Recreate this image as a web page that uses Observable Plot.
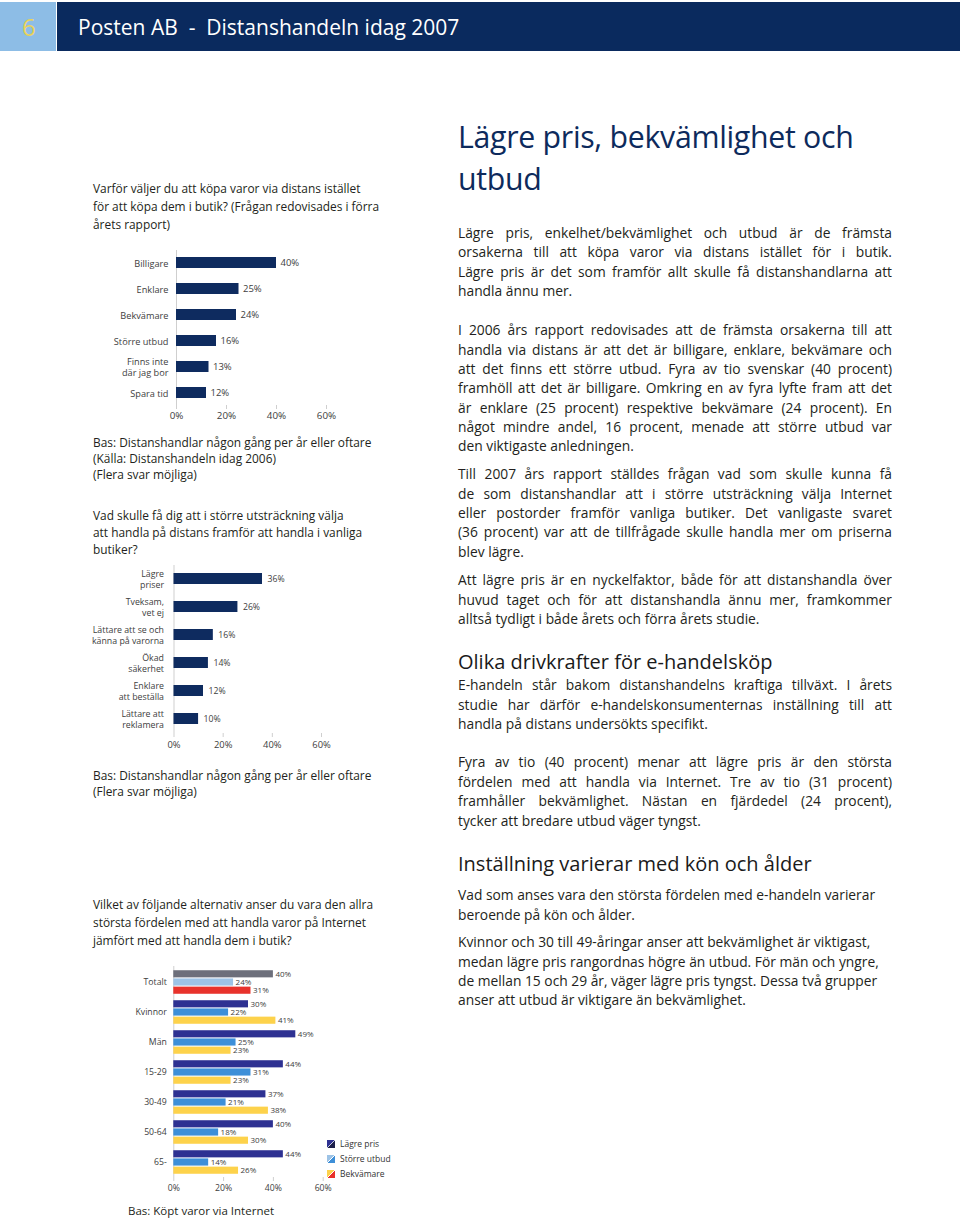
<!DOCTYPE html>
<html><head><meta charset="utf-8">
<script src="https://cdn.jsdelivr.net/npm/d3@7"></script>
<script src="https://cdn.jsdelivr.net/npm/@observablehq/plot@0.6"></script>
<style>
body{margin:0;background:#fff;font-family:"Open Sans",sans-serif;color:#231f20;}
#page{position:relative;width:960px;height:1221px;overflow:hidden;background:#fff;}
.chart svg{overflow:visible;display:block;}
.leg{position:absolute;font-size:8.5px;color:#333;display:flex;align-items:center;gap:5px;}
.sw{width:8px;height:8px;display:inline-block;}
</style></head><body><div id="page"></div>
<script>
// ---------- data ----------
const c1Cats = ["Billigare", "Enklare", "Bekvämare", "Större utbud", "Finns inte\ndär jag bor", "Spara tid"];
const c1Vals = [40, 25, 24, 16, 13, 12];

const c2Cats = ["Lägre\npriser", "Tveksam,\nvet ej", "Lättare att se och\nkänna på varorna", "Ökad\nsäkerhet", "Enklare\natt beställa", "Lättare att\nreklamera"];
const c2Vals = [36, 26, 16, 14, 12, 10];

const c3Cats = ["Totalt", "Kvinnor", "Män", "15-29", "30-49", "50-64", "65-"];
const c3Series = ["Lägre pris", "Större utbud", "Bekvämare"];
const c3LagrePris = [40, 30, 49, 44, 37, 40, 44];
const c3StorreUtbud = [24, 22, 25, 31, 21, 18, 14];
const c3Bekvamare = [31, 41, 23, 23, 38, 30, 26];

const xTicks = [0, 20, 40, 60];

// ---------- colours ----------
const navy = "#0e2b5f";
const c3Colors = ["#2e3192", "#3d8fd8", "#fdd24b"];
const c3TotalColors = ["#6d6f7b", "#9dc3e6", "#e8322b"];

const page = document.getElementById("page");
function el(tag, css, text) {
  const d = document.createElement(tag);
  Object.assign(d.style, css);
  if (text != null) d.textContent = text;
  page.appendChild(d);
  return d;
}

// ---------- header ----------
el("div", {position:"absolute", left:"0px", top:"2px", width:"56px", height:"49px", background:"#8dbde6"});
el("div", {position:"absolute", left:"57px", top:"2px", width:"903px", height:"49px", background:"#0a2a5e"});
el("div", {position:"absolute", left:"22px", top:"10px", fontSize:"24px", lineHeight:"34px", color:"#e9d35a"}, "6");
el("div", {position:"absolute", left:"78px", top:"11px", fontSize:"21px", lineHeight:"32px", color:"#fff", whiteSpace:"pre"}, "Posten AB  -  Distanshandeln idag 2007");

// ---------- text helpers ----------
const cv = document.createElement("canvas").getContext("2d");
function lines(x, y0, lh, arr, o) {
  arr.forEach((t, i) => {
    const d = el("div", {position:"absolute", left:x+"px", top:(y0 + i*lh - lh/2)+"px", lineHeight:lh+"px",
      fontSize:o.size+"px", color:o.color || "#231f20", whiteSpace:"nowrap", letterSpacing:(o.ls||0)+"px"}, t);
    if (o.width && i < (o.just != null ? o.just : arr.length - 1)) {
      cv.font = `${o.size}px "Open Sans"`;
      const w = cv.measureText(t).width + t.length*(o.ls||0);
      if (w > o.width - 2) d.style.letterSpacing = ((o.ls||0) + (o.width - 2 - w)/t.length) + "px";
      Object.assign(d.style, {width:o.width+"px", whiteSpace:"normal", textAlign:"justify", textAlignLast:"justify"});
    }
  });
}

// ---------- left column texts ----------
const LQ = {size:11.9, color:"#231f20"};
lines(93, 188, 18, ["Varför väljer du att köpa varor via distans istället", "för att köpa dem i butik? (Frågan redovisades i förra", "årets rapport)"], LQ);
lines(93, 442, 16, ["Bas: Distanshandlar någon gång per år eller oftare", "(Källa: Distanshandeln idag 2006)", "(Flera svar möjliga)"], LQ);
lines(93, 515, 17, ["Vad skulle få dig att i större utsträckning välja", "att handla på distans framför att handla i vanliga", "butiker?"], LQ);
lines(93, 775, 16, ["Bas: Distanshandlar någon gång per år eller oftare", "(Flera svar möjliga)"], LQ);
lines(93, 904, 18, ["Vilket av följande alternativ anser du vara den allra", "största fördelen med att handla varor på Internet", "jämfört med att handla dem i butik?"], LQ);
lines(128, 1211, 16, ["Bas: Köpt varor via Internet"], {size:11.5});

// ---------- right column ----------
lines(458, 137, 41.6, ["Lägre pris, bekvämlighet och", "utbud"], {size:30.3, color:"#0d2a5c", ls:-0.3});
const B = {size:13.8, width:434};
lines(458, 232.5, 19.4, ["Lägre pris, enkelhet/bekvämlighet och utbud är de främsta", "orsakerna till att köpa varor via distans istället för i butik.", "Lägre pris är det som framför allt skulle få distanshandlarna att", "handla ännu mer."], B);
lines(458, 330, 19.3, ["I 2006 års rapport redovisades att de främsta orsakerna till att", "handla via distans är att det är billigare, enklare, bekvämare och", "att det finns ett större utbud. Fyra av tio svenskar (40 procent)", "framhöll att det är billigare. Omkring en av fyra lyfte fram att det", "är enklare (25 procent) respektive bekvämare (24 procent). En", "något mindre andel, 16 procent, menade att större utbud var", "den viktigaste anledningen."], B);
lines(458, 474, 19.3, ["Till 2007 års rapport ställdes frågan vad som skulle kunna få", "de som distanshandlar att i större utsträckning välja Internet", "eller postorder framför vanliga butiker. Det vanligaste svaret", "(36 procent) var att de tillfrågade skulle handla mer om priserna", "blev lägre."], B);
lines(458, 580, 19.5, ["Att lägre pris är en nyckelfaktor, både för att distanshandla över", "huvud taget och för att distanshandla ännu mer, framkommer", "alltså tydligt i både årets och förra årets studie."], B);
lines(458, 662, 26, ["Olika drivkrafter för e-handelsköp"], {size:20, color:"#1a1a1a"});
lines(458, 685, 19.2, ["E-handeln står bakom distanshandelns kraftiga tillväxt. I årets", "studie har därför e-handelskonsumenternas inställning till att", "handla på distans undersökts specifikt."], B);
lines(458, 762, 19.4, ["Fyra av tio (40 procent) menar att lägre pris är den största", "fördelen med att handla via Internet. Tre av tio (31 procent)", "framhåller bekvämlighet. Nästan en fjärdedel (24 procent),", "tycker att bredare utbud väger tyngst."], B);
lines(458, 864, 26, ["Inställning varierar med kön och ålder"], {size:20, color:"#1a1a1a"});
lines(458, 895, 19.2, ["Vad som anses vara den största fördelen med e-handeln varierar", "beroende på kön och ålder."], {size:13.8, width:434, just:0});
lines(458, 942, 19.2, ["Kvinnor och 30 till 49-åringar anser att bekvämlighet är viktigast,", "medan lägre pris rangordnas högre än utbud. För män och yngre,", "de mellan 15 och 29 år, väger lägre pris tyngst. Dessa två grupper", "anser att utbud är viktigare än bekvämlighet."], {size:13.8, width:434, just:0});

// ---------- charts ----------
const font = '"Open Sans", sans-serif';
function place(svg, left, top) {
  const d = el("div", {position:"absolute", left:left+"px", top:top+"px"});
  d.className = "chart";
  d.appendChild(svg);
}
const pct = d => d + "%";

// Chart 1
const c1Data = c1Cats.map((c, i) => ({c, v: c1Vals[i]}));
place(Plot.plot({
  width:280, height:181, marginLeft:96, marginRight:34, marginTop:5, marginBottom:21,
  style:{fontFamily:font, fontSize:"9px", color:"#404040", background:"transparent", overflow:"visible"},
  x:{domain:[0,60], label:null},
  y:{domain:c1Cats, paddingInner:0.59, paddingOuter:0.269, label:null},
  marks:[
    Plot.ruleX([0], {stroke:"#cfcfcf"}),
    Plot.barX(c1Data, {x:"v", y:"c", fill:navy}),
    Plot.text(c1Data, {x:"v", y:"c", text:d => pct(d.v), dx:4, textAnchor:"start", fontSize:9.5, fill:"#404040"}),
    Plot.axisY({tickSize:0, tickPadding:8, fontSize:9.2, lineHeight:1.2, fill:"#404040", label:null}),
    Plot.axisX({ticks:xTicks, tickFormat:pct, tickSize:4, tickPadding:3, fontSize:9.8, stroke:"#cfcfcf", fill:"#404040", label:null})
  ]
}), 80, 245);

// Chart 2
const c2Data = c2Cats.map((c, i) => ({c, v: c2Vals[i]}));
place(Plot.plot({
  width:280, height:196, marginLeft:93.5, marginRight:39, marginTop:5, marginBottom:23,
  style:{fontFamily:font, fontSize:"9px", color:"#404040", background:"transparent", overflow:"visible"},
  x:{domain:[0,60], label:null},
  y:{domain:c2Cats, paddingInner:0.6, paddingOuter:0.264, label:null},
  marks:[
    Plot.ruleX([0], {stroke:"#cfcfcf"}),
    Plot.barX(c2Data, {x:"v", y:"c", fill:navy}),
    Plot.text(c2Data, {x:"v", y:"c", text:d => pct(d.v), dx:5, textAnchor:"start", fontSize:8.7, fill:"#404040"}),
    Plot.axisY({tickSize:0, tickPadding:10, fontSize:8.8, lineHeight:1.2, fill:"#404040", label:null}),
    Plot.axisX({ticks:xTicks, tickFormat:pct, tickSize:4, tickPadding:4, fontSize:9.4, stroke:"#cfcfcf", fill:"#404040", label:null})
  ]
}), 80, 560);

// Chart 3
const c3Vals = [c3LagrePris, c3StorreUtbud, c3Bekvamare];
const c3Data = c3Series.flatMap((s, si) => c3Cats.map((c, ci) => ({s, si, c, v: c3Vals[si][ci],
  fill: c === "Totalt" ? c3TotalColors[si] : c3Colors[si]})));
const offs = [-8.2, 0, 8.2];
const inset = (30.17 - 7.3) / 2;
place(Plot.plot({
  width:280, height:239, marginLeft:93.3, marginRight:37.3, marginTop:6, marginBottom:22,
  style:{fontFamily:font, fontSize:"8.5px", color:"#404040", background:"transparent", overflow:"visible"},
  x:{domain:[0,60], label:null},
  y:{domain:c3Cats, padding:0, label:null},
  marks:[
    Plot.ruleX([0], {stroke:"#cfcfcf"}),
    ...c3Series.map((s, si) => Plot.barX(c3Data.filter(d => d.si === si),
      {x:"v", y:"c", fill:d => d.fill, dy:offs[si], insetTop:inset, insetBottom:inset})),
    ...c3Series.map((s, si) => Plot.text(c3Data.filter(d => d.si === si),
      {x:"v", y:"c", text:d => pct(d.v), dy:offs[si], dx:2, textAnchor:"start", fontSize:8, fill:"#404040"})),
    Plot.axisY({tickSize:0, tickPadding:7, fontSize:8.7, fill:"#404040", label:null}),
    Plot.axisX({ticks:xTicks, tickFormat:pct, tickSize:4, tickPadding:3, fontSize:8.7, stroke:"#cfcfcf", fill:"#404040", label:null})
  ]
}), 80, 960);

// Legend for chart 3
const legGrad = [
  "linear-gradient(to bottom right, #2e3192 47%, #c8cce0 50%, #1c1f4a 53%)",
  "linear-gradient(to bottom right, #9dc3e6 47%, #ffffff 50%, #3d8fd8 53%)",
  "linear-gradient(to bottom right, #fdd24b 47%, #ffffff 50%, #e8322b 53%)"
];
c3Series.forEach((s, i) => {
  const d = el("div", {left:"327px", top:(1138 + i*15)+"px"});
  d.className = "leg";
  const sw = document.createElement("span");
  sw.className = "sw"; sw.style.background = legGrad[i];
  const t = document.createElement("span"); t.textContent = s;
  d.appendChild(sw); d.appendChild(t);
});
</script>
</body></html>
